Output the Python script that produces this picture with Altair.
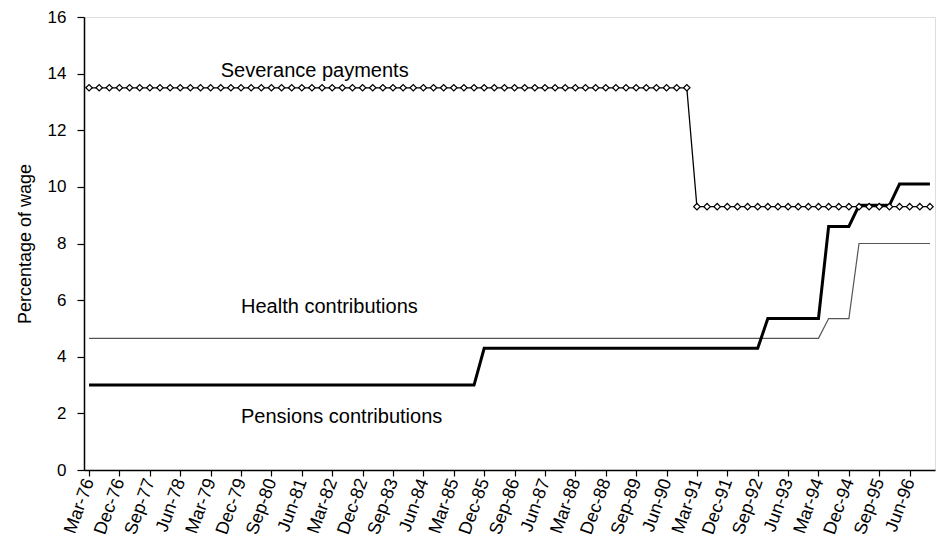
import altair as alt
import pandas as pd

quarters = [
    "Mar-76", "Jun-76", "Sep-76", "Dec-76", "Mar-77", "Jun-77", "Sep-77", "Dec-77",
    "Mar-78", "Jun-78", "Sep-78", "Dec-78", "Mar-79", "Jun-79", "Sep-79", "Dec-79",
    "Mar-80", "Jun-80", "Sep-80", "Dec-80", "Mar-81", "Jun-81", "Sep-81", "Dec-81",
    "Mar-82", "Jun-82", "Sep-82", "Dec-82", "Mar-83", "Jun-83", "Sep-83", "Dec-83",
    "Mar-84", "Jun-84", "Sep-84", "Dec-84", "Mar-85", "Jun-85", "Sep-85", "Dec-85",
    "Mar-86", "Jun-86", "Sep-86", "Dec-86", "Mar-87", "Jun-87", "Sep-87", "Dec-87",
    "Mar-88", "Jun-88", "Sep-88", "Dec-88", "Mar-89", "Jun-89", "Sep-89", "Dec-89",
    "Mar-90", "Jun-90", "Sep-90", "Dec-90", "Mar-91", "Jun-91", "Sep-91", "Dec-91",
    "Mar-92", "Jun-92", "Sep-92", "Dec-92", "Mar-93", "Jun-93", "Sep-93", "Dec-93",
    "Mar-94", "Jun-94", "Sep-94", "Dec-94", "Mar-95", "Jun-95", "Sep-95", "Dec-95",
    "Mar-96", "Jun-96", "Sep-96", "Dec-96",
]

severance = [
    13.5, 13.5, 13.5, 13.5, 13.5, 13.5, 13.5, 13.5,
    13.5, 13.5, 13.5, 13.5, 13.5, 13.5, 13.5, 13.5,
    13.5, 13.5, 13.5, 13.5, 13.5, 13.5, 13.5, 13.5,
    13.5, 13.5, 13.5, 13.5, 13.5, 13.5, 13.5, 13.5,
    13.5, 13.5, 13.5, 13.5, 13.5, 13.5, 13.5, 13.5,
    13.5, 13.5, 13.5, 13.5, 13.5, 13.5, 13.5, 13.5,
    13.5, 13.5, 13.5, 13.5, 13.5, 13.5, 13.5, 13.5,
    13.5, 13.5, 13.5, 13.5, 9.3, 9.3, 9.3, 9.3,
    9.3, 9.3, 9.3, 9.3, 9.3, 9.3, 9.3, 9.3,
    9.3, 9.3, 9.3, 9.3, 9.3, 9.3, 9.3, 9.3,
    9.3, 9.3, 9.3, 9.3,
]

pensions = [
    3.0, 3.0, 3.0, 3.0, 3.0, 3.0, 3.0, 3.0,
    3.0, 3.0, 3.0, 3.0, 3.0, 3.0, 3.0, 3.0,
    3.0, 3.0, 3.0, 3.0, 3.0, 3.0, 3.0, 3.0,
    3.0, 3.0, 3.0, 3.0, 3.0, 3.0, 3.0, 3.0,
    3.0, 3.0, 3.0, 3.0, 3.0, 3.0, 3.0, 4.3,
    4.3, 4.3, 4.3, 4.3, 4.3, 4.3, 4.3, 4.3,
    4.3, 4.3, 4.3, 4.3, 4.3, 4.3, 4.3, 4.3,
    4.3, 4.3, 4.3, 4.3, 4.3, 4.3, 4.3, 4.3,
    4.3, 4.3, 4.3, 5.35, 5.35, 5.35, 5.35, 5.35,
    5.35, 8.6, 8.6, 8.6, 9.35, 9.35, 9.35, 9.35,
    10.1, 10.1, 10.1, 10.1,
]

health = [
    4.65, 4.65, 4.65, 4.65, 4.65, 4.65, 4.65, 4.65,
    4.65, 4.65, 4.65, 4.65, 4.65, 4.65, 4.65, 4.65,
    4.65, 4.65, 4.65, 4.65, 4.65, 4.65, 4.65, 4.65,
    4.65, 4.65, 4.65, 4.65, 4.65, 4.65, 4.65, 4.65,
    4.65, 4.65, 4.65, 4.65, 4.65, 4.65, 4.65, 4.65,
    4.65, 4.65, 4.65, 4.65, 4.65, 4.65, 4.65, 4.65,
    4.65, 4.65, 4.65, 4.65, 4.65, 4.65, 4.65, 4.65,
    4.65, 4.65, 4.65, 4.65, 4.65, 4.65, 4.65, 4.65,
    4.65, 4.65, 4.65, 4.65, 4.65, 4.65, 4.65, 4.65,
    4.65, 5.35, 5.35, 5.35, 8.0, 8.0, 8.0, 8.0,
    8.0, 8.0, 8.0, 8.0,
]

tick_labels = [
    "Mar-76", "Dec-76", "Sep-77", "Jun-78", "Mar-79", "Dec-79", "Sep-80",
    "Jun-81", "Mar-82", "Dec-82", "Sep-83", "Jun-84", "Mar-85", "Dec-85",
    "Sep-86", "Jun-87", "Mar-88", "Dec-88", "Sep-89", "Jun-90", "Mar-91",
    "Dec-91", "Sep-92", "Jun-93", "Mar-94", "Dec-94", "Sep-95", "Jun-96",
]
y_ticks = [0, 2, 4, 6, 8, 10, 12, 14, 16]

ann_text = ["Severance payments", "Health contributions", "Pensions contributions"]
ann_quarter = ["Jun-79", "Dec-79", "Dec-79"]
ann_value = [14.08, 5.75, 1.88]

FONT = "Liberation Sans"

df_sev = pd.DataFrame({"quarter": quarters, "value": severance})
df_pen = pd.DataFrame({"quarter": quarters, "value": pensions})
df_hea = pd.DataFrame({"quarter": quarters, "value": health})
df_ann = pd.DataFrame({"quarter": ann_quarter, "value": ann_value, "text": ann_text})

x_enc = alt.X(
    "quarter:N",
    sort=quarters,
    scale=alt.Scale(domain=quarters, paddingInner=0, paddingOuter=0),
    axis=alt.Axis(
        values=tick_labels,
        bandPosition=0,
        title=None,
        labelAngle=-70,
        labelAlign="right",
        labelBaseline="middle",
        labelFont=FONT,
        labelFontSize=18,
        labelColor="black",
        labelPadding=3,
        tickSize=6,
        tickColor="black",
        tickWidth=1.2,
        domainColor="black",
        domainWidth=1.5,
        grid=False,
        labelOverlap=False,
    ),
)
y_enc = alt.Y(
    "value:Q",
    scale=alt.Scale(domain=[0, 16], nice=False, zero=True),
    axis=alt.Axis(
        values=y_ticks,
        title="Percentage of wage",
        titleFont=FONT,
        titleFontSize=18,
        titleFontWeight="normal",
        titleColor="black",
        titleAngle=-90,
        titleX=-59,
        titleY=226.5,
        titleAlign="center",
        titleBaseline="middle",
        labelFont=FONT,
        labelFontSize=17,
        labelColor="black",
        labelPadding=11,
        tickSize=7,
        tickColor="black",
        tickWidth=1.2,
        domainColor="black",
        domainWidth=1.5,
        grid=False,
    ),
)

health_line = alt.Chart(df_hea).mark_line(color="#555555", strokeWidth=1.2).encode(x=x_enc, y=y_enc)
pension_line = alt.Chart(df_pen).mark_line(color="black", strokeWidth=3).encode(x=x_enc, y=y_enc)
sev_line = alt.Chart(df_sev).mark_line(
    color="black",
    strokeWidth=1.3,
    point=alt.OverlayMarkDef(shape="diamond", filled=True, fill="white", stroke="black", strokeWidth=1.2, size=42),
).encode(x=x_enc, y=y_enc)
ann = alt.Chart(df_ann).mark_text(
    align="left", baseline="middle", font=FONT, fontSize=20, color="black"
).encode(x=x_enc, y=y_enc, text="text:N")

chart = (
    alt.layer(health_line, pension_line, sev_line, ann)
    .properties(
        width=851,
        height=453,
        autosize=alt.AutoSizeParams(type="none"),
        padding={"left": 76, "top": 9, "right": 1, "bottom": 68},
    )
    .configure_view(stroke="#333333", strokeWidth=1)
    .configure(background="white")
)

chart.save("out.html", embed_options={"renderer": "svg", "actions": False})
